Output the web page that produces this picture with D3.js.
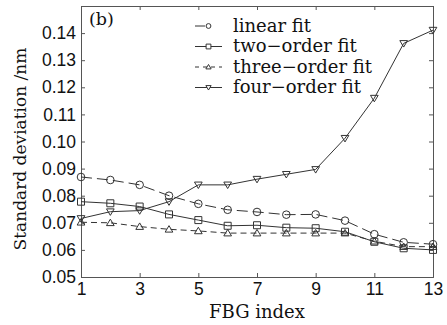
<!DOCTYPE html>
<html>
<head>
<meta charset="utf-8">
<script src="https://cdn.jsdelivr.net/npm/d3@7"></script>
<style>
  body { margin: 0; background: #fff; }
  svg { display: block; font-family: "DejaVu Serif", serif; }
  .axis path, .axis line { stroke: #555; }
  .axis text { font-size: 17.5px; fill: #111; }
</style>
</head>
<body>
<svg id="chart"></svg>
<script>
let fbgIndex = [1, 2, 3, 4, 5, 6, 7, 8, 9, 10, 11, 12, 13]

let linearFit = [0.0869, 0.0858, 0.0840, 0.0800, 0.0770, 0.0748, 0.0740, 0.0730, 0.0731, 0.0708, 0.0658, 0.0628, 0.0621]
let twoOrderFit = [0.0778, 0.0772, 0.0760, 0.0731, 0.0710, 0.0689, 0.0691, 0.0682, 0.0680, 0.0667, 0.0630, 0.0606, 0.0600]
let threeOrderFit = [0.0702, 0.0700, 0.0686, 0.0676, 0.0670, 0.0662, 0.0662, 0.0662, 0.0662, 0.0662, 0.0632, 0.0612, 0.0612]
let fourOrderFit = [0.0716, 0.0741, 0.0745, 0.0778, 0.0840, 0.0840, 0.0861, 0.0879, 0.0897, 0.1012, 0.1160, 0.1362, 0.1411]

let seriesNames = ['linear fit', 'two\u2212order fit', 'three\u2212order fit', 'four\u2212order fit']
let xTicks = [1, 3, 5, 7, 9, 11, 13]
let yTicks = [0.05, 0.06, 0.07, 0.08, 0.09, 0.10, 0.11, 0.12, 0.13, 0.14]

let width = 447
let height = 325
let margin = {top: 6, right: 14, bottom: 48, left: 81}
let ink = '#333'

let svg = d3.select('#chart')
  .attr('width', width)
  .attr('height', height)

let xScale = d3.scaleLinear()
  .domain([1, 13])
  .range([margin.left, width - margin.right])

let yScale = d3.scaleLinear()
  .domain([0.05, 0.15])
  .range([height - margin.bottom, margin.top])

let series = [
  {name: seriesNames[0], values: linearFit, marker: 'circle', dash: '11,5'},
  {name: seriesNames[1], values: twoOrderFit, marker: 'square', dash: null},
  {name: seriesNames[2], values: threeOrderFit, marker: 'up', dash: '6,4'},
  {name: seriesNames[3], values: fourOrderFit, marker: 'down', dash: null}
]

// marker shapes, drawn as paths around 0,0
let markerPath = (type, s) => {
  if (type === 'circle') {
    return d3.symbol(d3.symbolCircle, Math.PI * s * s)()
  }
  if (type === 'square') {
    return `M${-s},${-s}H${s}V${s}H${-s}Z`
  }
  if (type === 'up') {
    return `M0,${-s * 1.05}L${s * 1.1},${s * 0.8}L${-s * 1.1},${s * 0.8}Z`
  }
  return `M0,${s * 1.05}L${s * 1.1},${-s * 0.8}L${-s * 1.1},${-s * 0.8}Z`
}

let drawAxes = () => {
  let bottom = height - margin.bottom
  let right = width - margin.right

  svg.append('g')
    .attr('class', 'axis')
    .attr('transform', 'translate(0,' + bottom + ')')
    .call(d3.axisBottom(xScale).tickValues(xTicks).tickSize(-4).tickPadding(6).tickFormat(d3.format('d')))

  svg.append('g')
    .attr('class', 'axis')
    .attr('transform', 'translate(0,' + margin.top + ')')
    .call(d3.axisTop(xScale).tickValues(xTicks).tickSize(-4).tickFormat(''))

  svg.append('g')
    .attr('class', 'axis')
    .attr('transform', 'translate(' + margin.left + ',0)')
    .call(d3.axisLeft(yScale).tickValues(yTicks).tickSize(-4).tickPadding(5).tickFormat(d3.format('.2f')))

  svg.append('g')
    .attr('class', 'axis')
    .attr('transform', 'translate(' + right + ',0)')
    .call(d3.axisRight(yScale).tickValues(yTicks).tickSize(-4).tickFormat(''))

  svg.selectAll('.axis .domain').attr('stroke', '#555')

  svg.append('text')
    .attr('x', (margin.left + right) / 2)
    .attr('y', 318)
    .attr('text-anchor', 'middle')
    .attr('font-size', 18)
    .attr('fill', '#111')
    .text('FBG index')

  svg.append('text')
    .attr('transform', 'translate(26,149) rotate(-90)')
    .attr('text-anchor', 'middle')
    .attr('font-size', 17)
    .attr('fill', '#111')
    .text('Standard deviation /nm')

  svg.append('text')
    .attr('x', 89)
    .attr('y', 25)
    .attr('font-size', 17.5)
    .attr('fill', '#111')
    .text('(b)')
}

let drawSeries = () => {
  let line = d3.line()
    .x((d, i) => xScale(fbgIndex[i]))
    .y((d) => yScale(d))

  series.forEach((s) => {
    svg.append('path')
      .datum(s.values)
      .attr('fill', 'none')
      .attr('stroke', ink)
      .attr('stroke-width', 1)
      .attr('stroke-dasharray', s.dash)
      .attr('d', line)

    svg.append('g')
      .selectAll('path')
      .data(s.values)
      .enter()
      .append('path')
      .attr('transform', (d, i) => 'translate(' + xScale(fbgIndex[i]) + ',' + yScale(d) + ')')
      .attr('d', markerPath(s.marker, s.marker === 'circle' ? 3.8 : 3.5))
      .attr('fill', 'none')
      .attr('stroke', ink)
      .attr('stroke-width', 1)
  })
}

let drawLegend = () => {
  let legend = svg.append('g')
  let rowY = [26, 46.5, 67, 87.5]

  series.forEach((s, i) => {
    legend.append('line')
      .attr('x1', 195).attr('x2', 222)
      .attr('y1', rowY[i]).attr('y2', rowY[i])
      .attr('stroke', ink)
      .attr('stroke-dasharray', s.dash ? (s.dash === '6,4' ? '4,4' : '10,30') : null)

    legend.append('path')
      .attr('transform', 'translate(208.5,' + rowY[i] + ')')
      .attr('d', markerPath(s.marker, 2.4))
      .attr('fill', '#fff')
      .attr('stroke', ink)

    legend.append('text')
      .attr('x', 233)
      .attr('y', rowY[i] + 5.5)
      .attr('font-size', 18)
      .attr('fill', '#111')
      .text(s.name)
  })
}

drawAxes()
drawSeries()
drawLegend()
</script>
</body>
</html>
